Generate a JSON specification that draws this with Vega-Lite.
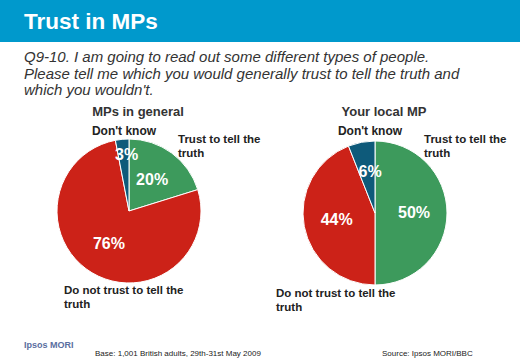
{
  "$schema": "https://vega.github.io/schema/vega-lite/v6.json",
  "width": 520,
  "height": 360,
  "autosize": {"type": "fit", "contains": "padding"},
  "padding": 0,
  "background": "white",
  "config": {"view": {"stroke": null}, "font": "Liberation Sans"},
  "datasets": {
    "pies": [
      {"question": "MPs in general", "code": 1, "answer": "Trust to tell the truth", "pct": 0.20},
      {"question": "MPs in general", "code": 2, "answer": "Do not trust to tell the truth", "pct": 0.76},
      {"question": "MPs in general", "code": 3, "answer": "Don't know", "pct": 0.03},
      {"question": "Your local MP", "code": 1, "answer": "Trust to tell the truth", "pct": 0.50},
      {"question": "Your local MP", "code": 2, "answer": "Do not trust to tell the truth", "pct": 0.44},
      {"question": "Your local MP", "code": 3, "answer": "Don't know", "pct": 0.06}
    ],
    "one": [{"a": 1}]
  },
  "data": {"name": "pies"},
  "layer": [
    {
      "data": {"name": "one"},
      "mark": {"type": "rect", "fill": "#0099cc"},
      "encoding": {
        "x": {"value": 0}, "x2": {"value": 520},
        "y": {"value": 0}, "y2": {"value": 42}
      }
    },
    {
      "data": {"name": "one"},
      "mark": {"type": "text", "text": "Trust in MPs", "fontWeight": "bold", "fontSize": 22.5, "fill": "white", "align": "left", "baseline": "alphabetic"},
      "encoding": {"x": {"value": 24}, "y": {"value": 29}}
    },
    {
      "data": {"name": "one"},
      "mark": {"type": "text", "text": ["Q9-10. I am going to read out some different types of people.", "Please tell me which you would generally trust to tell the truth and", "which you wouldn't."], "fontStyle": "italic", "fontSize": 15, "fill": "#333333", "align": "left", "baseline": "alphabetic", "lineHeight": 16.5},
      "encoding": {"x": {"value": 24}, "y": {"value": 62}}
    },
    {
      "data": {"name": "one"},
      "mark": {"type": "text", "text": "Ipsos MORI", "fontWeight": "bold", "fontSize": 9, "fill": "#5a6ea0", "align": "left", "baseline": "alphabetic"},
      "encoding": {"x": {"value": 24}, "y": {"value": 348}}
    },
    {
      "data": {"name": "one"},
      "mark": {"type": "text", "text": "Base: 1,001 British adults, 29th-31st May 2009", "fontSize": 8, "fill": "#222222", "align": "left", "baseline": "alphabetic"},
      "encoding": {"x": {"value": 95}, "y": {"value": 356}}
    },
    {
      "data": {"name": "one"},
      "mark": {"type": "text", "text": "Source: Ipsos MORI/BBC", "fontSize": 8, "fill": "#222222", "align": "left", "baseline": "alphabetic"},
      "encoding": {"x": {"value": 382}, "y": {"value": 356}}
    },
    {
      "transform": [{"filter": "datum.question === 'MPs in general'"}],
      "encoding": {
        "x": {"field": "question", "type": "nominal", "scale": {"type": "point", "domain": ["MPs in general", "Your local MP"], "range": [129, 375], "padding": 0}, "axis": null},
        "y": {"value": 211},
        "theta": {"field": "pct", "type": "quantitative", "stack": "normalize"},
        "order": {"field": "code", "type": "quantitative"}
      },
      "layer": [
        {
          "mark": {"type": "arc", "radius": 72, "stroke": "white", "strokeWidth": 1},
          "encoding": {"color": {"field": "answer", "type": "nominal", "scale": {"domain": ["Trust to tell the truth", "Do not trust to tell the truth", "Don't know"], "range": ["#3d9a5c", "#cc2218", "#0e5a7a"]}, "legend": null}}
        },
        {
          "mark": {"type": "text", "radius": 39, "fontWeight": "bold", "fontSize": 16, "fill": "white"},
          "encoding": {"text": {"condition": {"test": "datum.code !== 3", "field": "pct", "format": ".0%"}, "value": ""}}
        },
        {
          "mark": {"type": "text", "radius": 56, "fontWeight": "bold", "fontSize": 16, "fill": "white", "dx": 3},
          "encoding": {"text": {"condition": {"test": "datum.code === 3", "field": "pct", "format": ".0%"}, "value": ""}}
        }
      ]
    },
    {
      "transform": [{"filter": "datum.question === 'Your local MP'"}],
      "encoding": {
        "x": {"field": "question", "type": "nominal", "axis": null},
        "y": {"value": 213},
        "theta": {"field": "pct", "type": "quantitative", "stack": "normalize"},
        "order": {"field": "code", "type": "quantitative"}
      },
      "layer": [
        {
          "mark": {"type": "arc", "radius": 72, "stroke": "white", "strokeWidth": 1},
          "encoding": {"color": {"field": "answer", "type": "nominal", "legend": null}}
        },
        {
          "mark": {"type": "text", "radius": 39, "fontWeight": "bold", "fontSize": 16, "fill": "white"},
          "encoding": {"text": {"condition": {"test": "datum.code !== 3", "field": "pct", "format": ".0%"}, "value": ""}}
        },
        {
          "mark": {"type": "text", "radius": 42, "fontWeight": "bold", "fontSize": 16, "fill": "white", "dx": 3},
          "encoding": {"text": {"condition": {"test": "datum.code === 3", "field": "pct", "format": ".0%"}, "value": ""}}
        }
      ]
    },
    {
      "transform": [{"filter": "datum.code === 1"}],
      "mark": {"type": "text", "fontWeight": "bold", "fontSize": 13, "fill": "#333333", "align": "center", "baseline": "alphabetic", "dx": 9, "dy": -96, "text": {"expr": "datum.question"}},
      "encoding": {"x": {"field": "question", "type": "nominal", "axis": null}, "y": {"value": 212}}
    },
    {
      "transform": [{"filter": "datum.code === 3"}],
      "mark": {"type": "text", "fontWeight": "bold", "fontSize": 12, "fill": "#222222", "align": "center", "baseline": "alphabetic", "dx": -5, "dy": -77},
      "encoding": {"x": {"field": "question", "type": "nominal", "axis": null}, "y": {"value": 212}, "text": {"field": "answer"}}
    },
    {
      "transform": [{"filter": "datum.code === 1"}],
      "mark": {"type": "text", "fontWeight": "bold", "fontSize": 11.5, "fill": "#222222", "align": "left", "baseline": "alphabetic", "dx": 49, "dy": -69, "lineHeight": 13.5, "text": ["Trust to tell the", "truth"]},
      "encoding": {"x": {"field": "question", "type": "nominal", "axis": null}, "y": {"value": 212}}
    },
    {
      "transform": [{"filter": "datum.code === 2 && datum.question === 'MPs in general'"}],
      "mark": {"type": "text", "fontWeight": "bold", "fontSize": 11.5, "fill": "#222222", "align": "left", "baseline": "alphabetic", "dx": -65, "dy": 82, "lineHeight": 13.5, "text": ["Do not trust to tell the", "truth"]},
      "encoding": {"x": {"field": "question", "type": "nominal", "axis": null}, "y": {"value": 212}}
    },
    {
      "transform": [{"filter": "datum.code === 2 && datum.question === 'Your local MP'"}],
      "mark": {"type": "text", "fontWeight": "bold", "fontSize": 11.5, "fill": "#222222", "align": "left", "baseline": "alphabetic", "dx": -99, "dy": 85, "lineHeight": 13.5, "text": ["Do not trust to tell the", "truth"]},
      "encoding": {"x": {"field": "question", "type": "nominal", "axis": null}, "y": {"value": 212}}
    }
  ]
}
